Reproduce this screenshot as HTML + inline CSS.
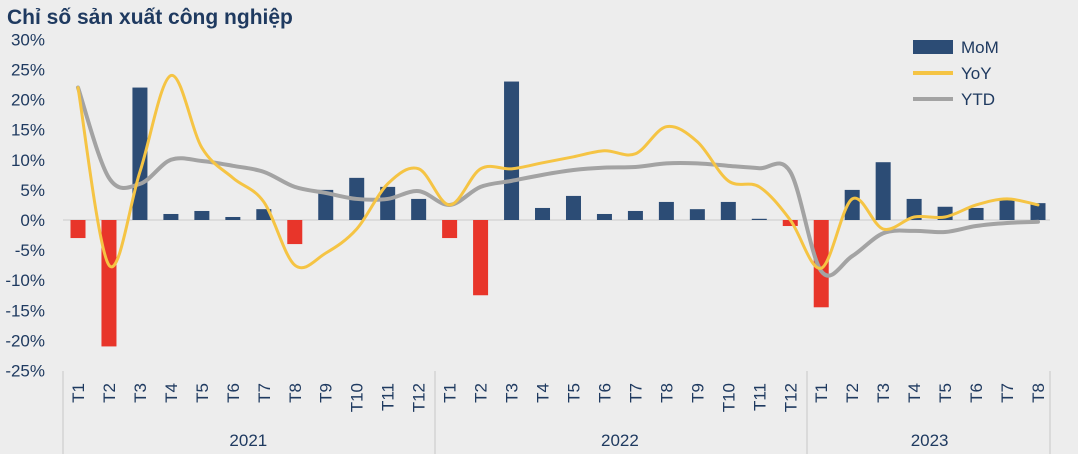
<!DOCTYPE html>
<html><head><meta charset="utf-8"><style>
body{margin:0;background:#ededed;}
svg{display:block;font-family:"Liberation Sans",Arial,sans-serif;}
</style></head><body>
<svg id="c" width="1078" height="454">
<rect width="1078" height="454" fill="#ededed"/>
<text x="7" y="24" font-size="21" font-weight="bold" fill="#1f3a60">Chỉ số sản xuất công nghiệp</text>
<g id="g"></g>
</svg>
<script>
const years=["2021","2022","2023"];
const months=["T1","T2","T3","T4","T5","T6","T7","T8","T9","T10","T11","T12","T1","T2","T3","T4","T5","T6","T7","T8","T9","T10","T11","T12","T1","T2","T3","T4","T5","T6","T7","T8"];
const mom=[-3,-21,22,1,1.5,0.5,1.8,-4,5,7,5.5,3.5,-3,-12.5,23,2,4,1,1.5,3,1.8,3,0.2,-1,-14.5,5,9.6,3.5,2.2,2,3.5,2.8];
const yoy=[22,-7.5,8,24,12,7,3,-7.5,-5.5,-1.5,6,8.5,2.5,8.5,8.5,9.5,10.5,11.5,11,15.5,13,6.5,5.5,0,-8,3.5,-1.5,0.5,0.5,2.5,3.5,2.5];
const ytd=[22,7,6,10,9.8,9,8,5.5,4.5,3.5,3.5,4.8,2.5,5.5,6.5,7.5,8.3,8.7,8.8,9.4,9.4,9,8.6,8,-8.5,-6,-2.2,-1.8,-2,-1,-0.5,-0.3];
const ticks=[30,25,20,15,10,5,0,-5,-10,-15,-20,-25];
const NS="http://www.w3.org/2000/svg",g=document.getElementById('g');
const X=i=>78+i*(1038-78)/31, Y=v=>220-v*6.02;
function el(t,a,p){const e=document.createElementNS(NS,t);for(const k in a)e.setAttribute(k,a[k]);(p||g).appendChild(e);return e;}
ticks.forEach(t=>{const e=el('text',{x:45,y:Y(t)+6,'font-size':17,fill:'#1f3a60','text-anchor':'end'});e.textContent=t+'%';

});
const z=el('line',{x1:63,x2:1050,y1:Y(0),y2:Y(0),stroke:'#d6d6d6','stroke-width':1.5});


mom.forEach((v,i)=>{const r=el('rect',{x:X(i)-7.5,y:Math.min(Y(v),Y(0)),width:15,height:Math.abs(Y(v)-Y(0)),fill:v<0?'#e8352a':'#2c4c75'});

});
function path(a){const p=a.map((v,i)=>[X(i),Y(v)]);let d='M'+p[0];for(let i=0;i<p.length-1;i++){const p0=p[i-1]||p[i],p1=p[i],p2=p[i+1],p3=p[i+2]||p2;
d+=' C'+(p1[0]+(p2[0]-p0[0])/6)+','+(p1[1]+(p2[1]-p0[1])/6)+' '+(p2[0]-(p3[0]-p1[0])/6)+','+(p2[1]-(p3[1]-p1[1])/6)+' '+p2;}return d;}
const l2=el('path',{d:path(ytd),fill:'none',stroke:'#a3a3a3','stroke-width':4,'stroke-linecap':'round'});


const l1=el('path',{d:path(yoy),fill:'none',stroke:'#f5c444','stroke-width':3,'stroke-linecap':'round'});


[63,435,807,1050].forEach(x=>{const s=el('line',{x1:x,x2:x,y1:371,y2:454,stroke:'#d3d3d3','stroke-width':1.5});

});
months.forEach((m,i)=>{const t=el('text',{transform:`translate(${X(i)+6},383) rotate(-90)`,'font-size':17,fill:'#1f3a60','text-anchor':'end'});t.textContent=m;

});
[[0,11],[12,23],[24,31]].forEach((r,k)=>{const t=el('text',{x:(X(r[0])+X(r[1]))/2,y:446,'font-size':17,fill:'#1f3a60','text-anchor':'middle'});t.textContent=years[k];

});
const leg=[['MoM','#2c4c75','rect'],['YoY','#f5c444','line'],['YTD','#a3a3a3','line']];
leg.forEach((L,k)=>{const y=47+k*26;
if(L[2]=='rect'){const r=el('rect',{x:913,y:y-7,width:40,height:14,fill:L[1]});}
else{const r=el('line',{x1:913,x2:953,y1:y,y2:y,stroke:L[1],'stroke-width':4});}
const t=el('text',{x:961,y:y+6,'font-size':17,fill:'#1f3a60'});t.textContent=L[0];

});
</script>
</body></html>
